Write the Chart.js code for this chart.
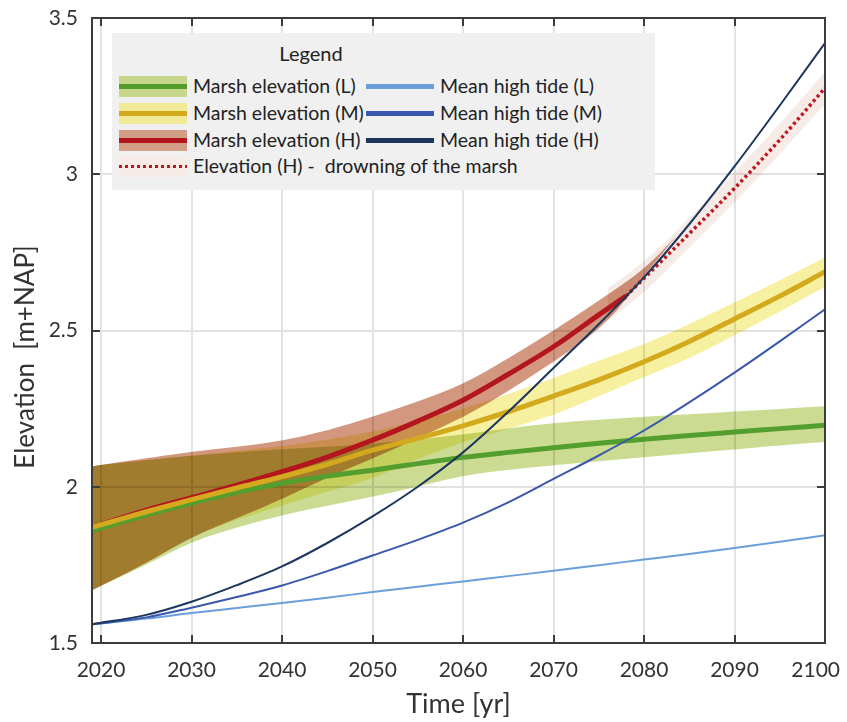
<!DOCTYPE html>
<html lang="en">
<head>
  <meta charset="UTF-8">
  <title>Marsh elevation vs mean high tide</title>
  <script src="https://cdn.jsdelivr.net/npm/chart.js"></script>
  <style>
    body { margin: 0; background: #fff; font-family: Lato, 'Open Sans', sans-serif; }
    .wrap { position: relative; width: 847px; height: 722px; }
    .legend {
      position: absolute; left: 112px; top: 33px; width: 543px; height: 157px;
      background: #f0f0f0; color: #222; font-size: 19.5px;
    }
    .legend .ttl { position: absolute; left: 0; top: 9px; width: 398px; text-align: center; line-height: 22px; font-size: 20px; }
    .legend .sw { position: absolute; width: 68px; height: 21px; }
    .legend .sw i { position: absolute; left: 0; right: 0; top: 8px; height: 5px; }
    .legend .txt { position: absolute; line-height: 22px; white-space: nowrap; }
  </style>
</head>
<body>
  <div class="wrap">
    <canvas id="grafico" width="847" height="722"></canvas>
    <div class="legend">
      <div class="ttl">Legend</div>

      <div class="sw" style="left:7px; top:43px; background:#c6d68b"><i style="background:#539e2d"></i></div>
      <div class="txt" style="left:81px; top:42px">Marsh elevation (L)</div>
      <div class="sw" style="left:7px; top:70px; background:#f2ea96"><i style="background:#d3a91e"></i></div>
      <div class="txt" style="left:81px; top:69px">Marsh elevation (M)</div>
      <div class="sw" style="left:7px; top:97px; background:#d39e86"><i style="background:#b3171d"></i></div>
      <div class="txt" style="left:81px; top:96px">Marsh elevation (H)</div>
      <div class="sw" style="left:7px; top:123px; background:#f7ebe8"><i style="top:9px; height:3px; background:repeating-linear-gradient(to right,#c0161c 0 3px,transparent 3px 6px)"></i></div>
      <div class="txt" style="left:81px; top:122px">Elevation (H) -&nbsp; drowning of the marsh</div>

      <div class="sw" style="left:254px; top:43px"><i style="background:#6a9fdc"></i></div>
      <div class="txt" style="left:328px; top:42px">Mean high tide (L)</div>
      <div class="sw" style="left:254px; top:70px"><i style="background:#3a59ad"></i></div>
      <div class="txt" style="left:328px; top:69px">Mean high tide (M)</div>
      <div class="sw" style="left:254px; top:97px"><i style="background:#1c365e"></i></div>
      <div class="txt" style="left:328px; top:96px">Mean high tide (H)</div>
    </div>
  </div>

  <script>
    // tick labels
    const xTicks = [2020, 2030, 2040, 2050, 2060, 2070, 2080, 2090, 2100];
    const yTicks = [1.5, 2, 2.5, 3, 3.5];

    // common time axis (yr)
    const years = [2019, 2025, 2030, 2035, 2040, 2045, 2050, 2055, 2060, 2065, 2070, 2075, 2080, 2085, 2090, 2095, 2100];

    // mean high tide scenarios
    const tideL = [1.56, 1.578, 1.596, 1.612, 1.628, 1.645, 1.663, 1.68, 1.697, 1.714, 1.731, 1.749, 1.767, 1.785, 1.804, 1.824, 1.845];
    const tideM = [1.56, 1.582, 1.613, 1.647, 1.684, 1.73, 1.78, 1.83, 1.885, 1.95, 2.025, 2.10, 2.18, 2.27, 2.365, 2.465, 2.568];
    const tideH = [1.56, 1.59, 1.632, 1.685, 1.745, 1.82, 1.905, 2.0, 2.11, 2.24, 2.38, 2.52, 2.67, 2.84, 3.025, 3.22, 3.42];

    // marsh elevation (L)
    const marshL     = [1.86, 1.91, 1.948, 1.982, 2.011, 2.034, 2.053, 2.074, 2.094, 2.11, 2.125, 2.139, 2.152, 2.164, 2.175, 2.186, 2.197];
    const marshLLow  = [1.669, 1.75, 1.824, 1.87, 1.909, 1.94, 1.968, 2.0, 2.037, 2.055, 2.069, 2.082, 2.094, 2.107, 2.12, 2.132, 2.143];
    const marshLHigh = [2.066, 2.085, 2.10, 2.11, 2.12, 2.128, 2.138, 2.152, 2.167, 2.187, 2.205, 2.215, 2.224, 2.232, 2.24, 2.249, 2.258];

    // marsh elevation (M)
    const marshM     = [1.87, 1.92, 1.959, 1.996, 2.032, 2.072, 2.117, 2.155, 2.195, 2.24, 2.29, 2.342, 2.40, 2.465, 2.537, 2.61, 2.688];
    const marshMLow  = [1.669, 1.755, 1.84, 1.895, 1.94, 1.985, 2.025, 2.09, 2.144, 2.185, 2.229, 2.29, 2.352, 2.41, 2.485, 2.56, 2.64];
    const marshMHigh = [2.066, 2.085, 2.10, 2.115, 2.13, 2.15, 2.176, 2.21, 2.25, 2.296, 2.347, 2.405, 2.455, 2.52, 2.59, 2.66, 2.734];

    // marsh elevation (H), until drowning
    const yearsH     = [2019, 2025, 2030, 2035, 2040, 2045, 2050, 2055, 2060, 2065, 2070, 2075, 2078];
    const marshH     = [1.87, 1.925, 1.965, 2.005, 2.048, 2.095, 2.149, 2.21, 2.277, 2.36, 2.448, 2.55, 2.61];
    const yearsHHigh = [2019, 2025, 2030, 2035, 2040, 2045, 2050, 2055, 2060, 2065, 2070, 2075, 2080, 2083.5];
    const marshHHigh = [2.066, 2.092, 2.112, 2.128, 2.146, 2.18, 2.224, 2.272, 2.328, 2.41, 2.50, 2.595, 2.694, 2.80];
    const yearsHLow  = [2019, 2025, 2030, 2035, 2040, 2045, 2050, 2055, 2060, 2065, 2070, 2075, 2077];
    const marshHLow  = [1.669, 1.755, 1.84, 1.90, 1.96, 2.03, 2.09, 2.155, 2.222, 2.305, 2.40, 2.50, 2.565];

    // elevation (H) after drowning
    const yearsDrown     = [2078, 2080, 2085, 2090, 2095, 2100];
    const drownH         = [2.61, 2.667, 2.81, 2.955, 3.11, 3.276];
    const yearsDrownBand = [2076, 2080, 2085, 2090, 2095, 2100];
    const drownLow       = [2.53, 2.62, 2.765, 2.91, 3.063, 3.226];
    const drownHigh      = [2.635, 2.715, 2.86, 3.005, 3.16, 3.328];

    const pts = (xs, ys) => xs.map((x, i) => ({ x: x, y: ys[i] }));

    // uncertainty bands, blended with multiply like overlapping transparent patches
    const bandas = [
      { xHi: years, hi: marshLHigh, xLo: years, lo: marshLLow, cor: '#cbdc92' },
      { xHi: years, hi: marshMHigh, xLo: years, lo: marshMLow, cor: '#f6f0a0' },
      { xHi: yearsHHigh, hi: marshHHigh, xLo: yearsHLow, lo: marshHLow, cor: '#d2977e' },
      { xHi: yearsDrownBand, hi: drownHigh, xLo: yearsDrownBand, lo: drownLow, cor: '#f7ebe8' }
    ];

    const fonte = 'Lato';
    const corTexto = '#333';
    const tituloY = 'Elevation  [m+NAP]';

    // smooth edge through points (quadratic through midpoints)
    function tracar(ctx, p, inicio) {
      if (inicio) ctx.moveTo(p[0][0], p[0][1]); else ctx.lineTo(p[0][0], p[0][1]);
      for (let i = 1; i < p.length - 1; i++) {
        ctx.quadraticCurveTo(p[i][0], p[i][1], (p[i][0] + p[i + 1][0]) / 2, (p[i][1] + p[i + 1][1]) / 2);
      }
      ctx.lineTo(p[p.length - 1][0], p[p.length - 1][1]);
    }

    const moldura = {
      id: 'moldura',
      beforeDatasetsDraw(chart) {
        const { ctx, chartArea: a, scales: { x, y } } = chart;
        ctx.save();
        ctx.beginPath();
        ctx.rect(a.left, a.top, a.right - a.left, a.bottom - a.top);
        ctx.clip();
        ctx.globalCompositeOperation = 'multiply';
        bandas.forEach(b => {
          const cima = b.xHi.map((v, i) => [x.getPixelForValue(v), y.getPixelForValue(b.hi[i])]);
          const baixo = b.xLo.map((v, i) => [x.getPixelForValue(v), y.getPixelForValue(b.lo[i])]).reverse();
          ctx.beginPath();
          tracar(ctx, cima, true);
          tracar(ctx, baixo, false);
          ctx.closePath();
          ctx.fillStyle = b.cor;
          ctx.fill();
        });
        ctx.restore();
      },
      afterDraw(chart) {
        const { ctx, chartArea: a, scales: { x, y } } = chart;
        ctx.save();
        ctx.strokeStyle = '#3c3c3c';
        ctx.lineWidth = 2;
        ctx.strokeRect(a.left, a.top, a.right - a.left, a.bottom - a.top);
        ctx.beginPath();
        xTicks.forEach(v => {
          const px = Math.round(x.getPixelForValue(v));
          ctx.moveTo(px, a.bottom); ctx.lineTo(px, a.bottom - 8);
          ctx.moveTo(px, a.top); ctx.lineTo(px, a.top + 8);
        });
        yTicks.forEach(v => {
          const py = Math.round(y.getPixelForValue(v));
          ctx.moveTo(a.left, py); ctx.lineTo(a.left + 8, py);
          ctx.moveTo(a.right, py); ctx.lineTo(a.right - 8, py);
        });
        ctx.stroke();

        // x tick labels; the last one is pulled in so it stays on the page
        ctx.fillStyle = corTexto;
        ctx.font = '21px ' + fonte;
        ctx.textAlign = 'center';
        ctx.textBaseline = 'middle';
        xTicks.forEach(v => {
          const txt = String(v);
          const w = ctx.measureText(txt).width;
          const px = Math.min(x.getPixelForValue(v), chart.width - 7 - w / 2);
          ctx.fillText(txt, px, a.bottom + 27);
        });

        // y axis title, placed like the original (a bit below the middle)
        ctx.translate(26, 357);
        ctx.rotate(-Math.PI / 2);
        ctx.font = '26px ' + fonte;
        ctx.fillText(tituloY, 0, 0);
        ctx.restore();
      }
    };

    new Chart(document.getElementById('grafico').getContext('2d'), {
      type: 'line',
      data: {
        datasets: [
          { label: 'Mean high tide (H)', data: pts(years, tideH), borderColor: '#1c365e', borderWidth: 2 },
          { label: 'Mean high tide (M)', data: pts(years, tideM), borderColor: '#3a59ad', borderWidth: 2 },
          { label: 'Mean high tide (L)', data: pts(years, tideL), borderColor: '#6a9fdc', borderWidth: 2 },
          { label: 'Elevation (H) - drowning of the marsh', data: pts(yearsDrown, drownH), borderColor: '#c0161c', borderWidth: 3.5, borderDash: [3, 3] },
          { label: 'Marsh elevation (M)', data: pts(years, marshM), borderColor: '#d3a91e', borderWidth: 5 },
          { label: 'Marsh elevation (L)', data: pts(years, marshL), borderColor: '#539e2d', borderWidth: 5 },
          { label: 'Marsh elevation (H)', data: pts(yearsH, marshH), borderColor: '#b3171d', borderWidth: 5 }
        ]
      },
      options: {
        responsive: false,
        animation: false,
        devicePixelRatio: 1,
        layout: { padding: { top: 18, right: 22, left: 0, bottom: 0 } },
        elements: {
          point: { radius: 0 },
          line: { cubicInterpolationMode: 'monotone', fill: false }
        },
        plugins: { legend: { display: false }, tooltip: { enabled: false } },
        scales: {
          x: {
            type: 'linear', min: 2019, max: 2100,
            afterBuildTicks: s => { s.ticks = xTicks.map(v => ({ value: v })); },
            afterFit: s => { s.height = 79; s.paddingLeft = 0; s.paddingRight = 0; },
            grid: { color: '#e2e2e2', lineWidth: 2, drawTicks: false },
            border: { display: false },
            ticks: { display: false },
            title: { display: true, text: 'Time [yr]', color: corTexto, font: { family: fonte, size: 27 }, padding: { top: 0, bottom: 2 } }
          },
          y: {
            min: 1.5, max: 3.5,
            afterBuildTicks: s => { s.ticks = yTicks.map(v => ({ value: v })); },
            afterFit: s => { s.width = 92; s.paddingTop = 0; s.paddingBottom = 0; },
            grid: { color: '#e2e2e2', lineWidth: 2, drawTicks: false },
            border: { display: false },
            ticks: { padding: 14, color: corTexto, font: { family: fonte, size: 21 }, callback: v => String(v) }
          }
        }
      },
      plugins: [moldura]
    });
  </script>
</body>
</html>
